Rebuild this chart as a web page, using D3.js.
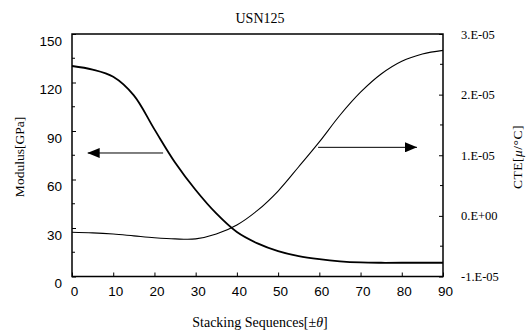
<!DOCTYPE html>
<html><head><meta charset="utf-8">
<script src="https://cdn.jsdelivr.net/npm/d3@7"></script>
<style>
html,body{margin:0;padding:0;background:#fff;}
svg{display:block;}
</style></head>
<body>
<svg id="chart" width="532" height="336"></svg>
<script>
// ---- data ----
const theta = [0,5,10,15,20,25,30,35,40,45,50,55,60,65,70,75,80,85,90];
const modulus = [130.2,128,123.5,112,91,70.5,53.5,39,27.5,20.5,15.7,12.6,10.7,9.4,8.7,8.5,8.5,8.5,8.5];
const cte = [-2.7e-6,-2.8e-6,-3.0e-6,-3.3e-6,-3.6e-6,-3.8e-6,-3.8e-6,-3.0e-6,-1.5e-6,0.9e-6,4.1e-6,8.1e-6,12.2e-6,16.6e-6,20.4e-6,23.4e-6,25.5e-6,26.7e-6,27.3e-6];
const xTicks = [0,10,20,30,40,50,60,70,80,90];
const leftTicks = [0,30,60,90,120,150];
const rightTicks = [-1e-5,0,1e-5,2e-5,3e-5];
const rightTickLabels = ["-1.E-05","0.E+00","1.E-05","2.E-05","3.E-05"];
const title = "USN125";
// arrows: [theta start, theta end, modulus level]
const arrowLeft = [22.1, 3.8, 76.4];
const arrowRight = [59.7, 83.7, 79.9];

// ---- layout ----
const svg = d3.select("#chart");
const L = 72, R = 443, T = 34, B = 276.5;
const x = d3.scaleLinear().domain([0,90]).range([L,R]);
const yL = d3.scaleLinear().domain([0,150]).range([B,T]);
const yR = d3.scaleLinear().domain([-1e-5,3e-5]).range([B,T]);
const sans = "'Liberation Sans', Arial, sans-serif";
const serif = "'Liberation Serif', 'Times New Roman', serif";

// frame
svg.append("rect").attr("x",L).attr("y",T).attr("width",R-L).attr("height",B-T)
  .attr("fill","none").attr("stroke","#000").attr("stroke-width",1.5);

// x axis ticks (inward)
const gx = svg.append("g").attr("transform",`translate(0,${B})`)
  .call(d3.axisBottom(x).tickValues(xTicks).tickSizeInner(-4).tickSizeOuter(0).tickPadding(10));
gx.select(".domain").remove();
gx.selectAll("text").attr("font-family",sans).attr("font-size",13.5).attr("fill","#000").attr("dx",2);
gx.selectAll("line").attr("stroke","#000");

// left axis
const gl = svg.append("g").attr("transform",`translate(${L},0)`)
  .call(d3.axisLeft(yL).tickValues(leftTicks).tickSizeInner(-4).tickSizeOuter(0).tickPadding(10));
gl.select(".domain").remove();
gl.selectAll("text").attr("font-family",sans).attr("font-size",13.5).attr("fill","#000").attr("dy","0.85em");
gl.selectAll("line").attr("stroke","#000");
svg.append("g").selectAll("line").data(d3.range(15,150,30)).join("line")
  .attr("x1",L).attr("x2",L+3).attr("y1",d=>yL(d)).attr("y2",d=>yL(d)).attr("stroke","#000");

// right axis
const gr = svg.append("g").attr("transform",`translate(${R},0)`)
  .call(d3.axisRight(yR).tickValues(rightTicks).tickSizeInner(-4).tickSizeOuter(0).tickPadding(18)
    .tickFormat((d,i)=>rightTickLabels[i]));
gr.select(".domain").remove();
gr.selectAll("text").attr("font-family",serif).attr("font-size",12.5).attr("fill","#000");
gr.selectAll("line").attr("stroke","#000");
svg.append("g").selectAll("line").data(d3.range(-0.5e-5,3e-5,1e-5)).join("line")
  .attr("x1",R).attr("x2",R-3).attr("y1",d=>yR(d)).attr("y2",d=>yR(d)).attr("stroke","#000");

// curves
const modLine = d3.line().x((d,i)=>x(theta[i])).y(d=>yL(d)).curve(d3.curveCatmullRom.alpha(0.5));
svg.append("path").attr("d",modLine(modulus)).attr("fill","none").attr("stroke","#000").attr("stroke-width",1.8);
const cteLine = d3.line().x((d,i)=>x(theta[i])).y(d=>yR(d)).curve(d3.curveCatmullRom.alpha(0.5));
svg.append("path").attr("d",cteLine(cte)).attr("fill","none").attr("stroke","#000").attr("stroke-width",1.1);

// arrows
const defs = svg.append("defs");
defs.append("marker").attr("id","ah").attr("viewBox","0 0 12 10").attr("refX",12).attr("refY",5)
  .attr("markerWidth",12).attr("markerHeight",10).attr("markerUnits","userSpaceOnUse").attr("orient","auto")
  .append("path").attr("d","M0,0 L12,5 L0,10 Z").attr("fill","#000");
[arrowLeft, arrowRight].forEach(a=>{
  svg.append("line").attr("x1",x(a[0])).attr("x2",x(a[1])).attr("y1",yL(a[2])).attr("y2",yL(a[2]))
    .attr("stroke","#000").attr("stroke-width",1).attr("marker-end","url(#ah)");
});

// titles
svg.append("text").attr("x",260).attr("y",23).attr("text-anchor","middle")
  .attr("font-family",serif).attr("font-size",14).text(title);
svg.append("text").attr("x",260).attr("y",327).attr("text-anchor","middle")
  .attr("font-family",serif).attr("font-size",14)
  .html('Stacking Sequences[±<tspan font-style="italic">θ</tspan>]');
svg.append("text").attr("transform","translate(24,157) rotate(-90)").attr("text-anchor","middle")
  .attr("font-family",serif).attr("font-size",13.5).text("Modulus[GPa]");
svg.append("text").attr("transform","translate(522,157) rotate(-90)").attr("text-anchor","middle")
  .attr("font-family",serif).attr("font-size",13.5).attr("letter-spacing",0.5)
  .html('CTE[<tspan font-style="italic">μ</tspan>/°C]');
</script>
</body></html>
